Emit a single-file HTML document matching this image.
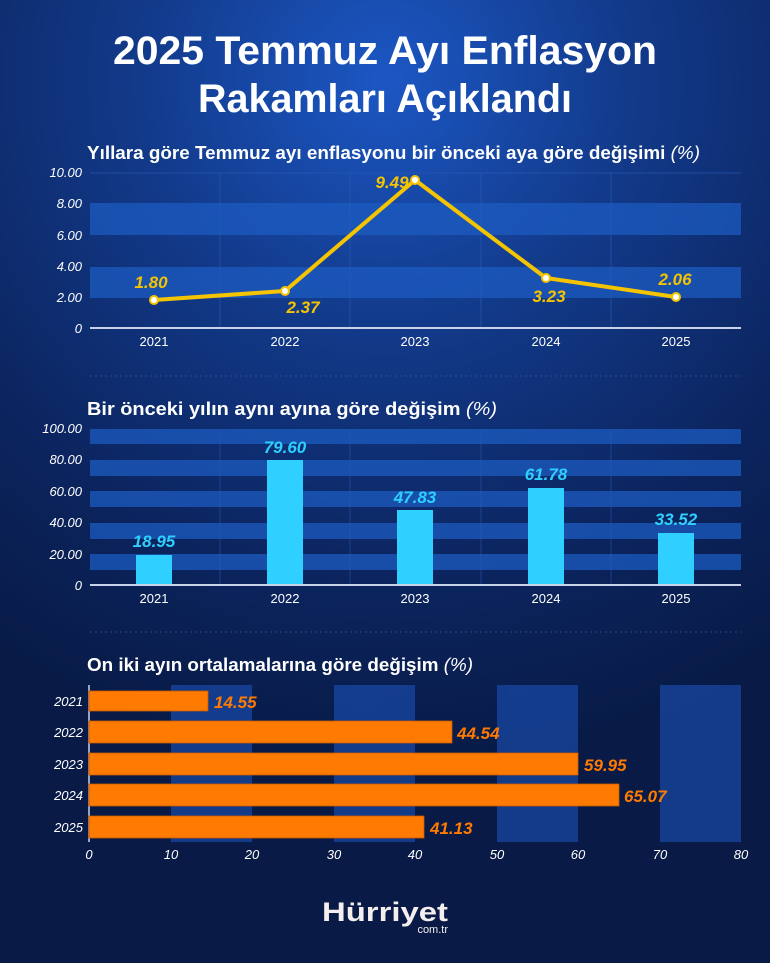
<!DOCTYPE html>
<html><head><meta charset="utf-8"><style>
html,body{margin:0;padding:0;background:#0a1d4a}
svg{display:block}
text{font-family:"Liberation Sans",sans-serif}
</style></head><body>
<svg width="770" height="963" viewBox="0 0 770 963" xmlns="http://www.w3.org/2000/svg">
<defs>
<radialGradient id="bg" cx="385" cy="80" r="700" gradientUnits="userSpaceOnUse">
<stop offset="0" stop-color="#1c57c4"/>
<stop offset="0.35" stop-color="#123a8a"/>
<stop offset="0.7" stop-color="#0c2560"/>
<stop offset="1" stop-color="#081a45"/>
</radialGradient>
</defs>
<rect width="770" height="963" fill="url(#bg)"/>
<!-- Title -->
<g fill="#fff" font-weight="bold" text-anchor="middle">
<text x="385" y="64" font-size="40" textLength="544" lengthAdjust="spacingAndGlyphs">2025 Temmuz Ayı Enflasyon</text>
<text x="385" y="112" font-size="40" textLength="374" lengthAdjust="spacingAndGlyphs">Rakamları Açıklandı</text>
</g>
<!-- Chart 1 -->
<text x="87" y="159" fill="#fff" font-size="18" font-weight="bold" textLength="613" lengthAdjust="spacingAndGlyphs">Yıllara göre Temmuz ayı enflasyonu bir önceki aya göre değişimi <tspan font-weight="normal" font-style="italic">(%)</tspan></text>
<rect x="90" y="203" width="651" height="32" fill="#1c5bc0" opacity="0.75"/>
<rect x="90" y="267" width="651" height="31" fill="#1c5bc0" opacity="0.75"/>
<g stroke="#2a5db5" stroke-width="1" opacity="0.6">
<line x1="90" y1="173" x2="741" y2="173"/>
<line x1="220" y1="173" x2="220" y2="328"/><line x1="350" y1="173" x2="350" y2="328"/>
<line x1="481" y1="173" x2="481" y2="328"/><line x1="611" y1="173" x2="611" y2="328"/>
</g>
<line x1="90" y1="328" x2="741" y2="328" stroke="#c8d2e8" stroke-width="2"/>
<g fill="#fff" font-size="13" font-style="italic" text-anchor="end">
<text x="82" y="177">10.00</text><text x="82" y="208">8.00</text><text x="82" y="240">6.00</text>
<text x="82" y="271">4.00</text><text x="82" y="302">2.00</text><text x="82" y="333">0</text>
</g>
<g fill="#fff" font-size="13" text-anchor="middle">
<text x="154" y="346">2021</text><text x="285" y="346">2022</text><text x="415" y="346">2023</text><text x="546" y="346">2024</text><text x="676" y="346">2025</text>
</g>
<polyline points="154,300 285,291 415,180 546,278 676,297" fill="none" stroke="#f5c400" stroke-width="4" stroke-linejoin="round"/>
<g fill="#fff" stroke="#f5c400" stroke-width="2">
<circle cx="154" cy="300" r="4"/><circle cx="285" cy="291" r="4"/><circle cx="415" cy="180" r="4"/><circle cx="546" cy="278" r="4"/><circle cx="676" cy="297" r="4"/>
</g>
<g fill="#f5c400" font-size="17" font-weight="bold" font-style="italic" text-anchor="middle">
<text x="151" y="288">1.80</text><text x="303" y="313">2.37</text><text x="392" y="188">9.49</text><text x="549" y="302">3.23</text><text x="675" y="285">2.06</text>
</g>
<line x1="90" y1="376" x2="741" y2="376" stroke="#3a5fa8" stroke-dasharray="2 3" opacity="0.6"/>
<!-- Chart 2 -->
<text x="87" y="415" fill="#fff" font-size="18" font-weight="bold" textLength="410" lengthAdjust="spacingAndGlyphs">Bir önceki yılın aynı ayına göre değişim <tspan font-weight="normal" font-style="italic">(%)</tspan></text>
<g fill="#1c5bc0" opacity="0.75">
<rect x="90" y="429" width="651" height="15"/><rect x="90" y="460" width="651" height="16"/>
<rect x="90" y="491" width="651" height="16"/><rect x="90" y="523" width="651" height="16"/>
<rect x="90" y="554" width="651" height="16"/>
</g>
<g stroke="#2a5db5" stroke-width="1" opacity="0.5">
<line x1="220" y1="429" x2="220" y2="585"/><line x1="350" y1="429" x2="350" y2="585"/>
<line x1="481" y1="429" x2="481" y2="585"/><line x1="611" y1="429" x2="611" y2="585"/>
</g>
<g fill="#2fd0ff">
<rect x="136" y="555" width="36" height="30"/><rect x="267" y="460" width="36" height="125"/>
<rect x="397" y="510" width="36" height="75"/><rect x="528" y="488" width="36" height="97"/>
<rect x="658" y="533" width="36" height="52"/>
</g>
<line x1="90" y1="585" x2="741" y2="585" stroke="#c8d2e8" stroke-width="2"/>
<g fill="#fff" font-size="13" font-style="italic" text-anchor="end">
<text x="82" y="433">100.00</text><text x="82" y="464">80.00</text><text x="82" y="496">60.00</text>
<text x="82" y="527">40.00</text><text x="82" y="559">20.00</text><text x="82" y="590">0</text>
</g>
<g fill="#fff" font-size="13" text-anchor="middle">
<text x="154" y="603">2021</text><text x="285" y="603">2022</text><text x="415" y="603">2023</text><text x="546" y="603">2024</text><text x="676" y="603">2025</text>
</g>
<g fill="#2fd0ff" font-size="17" font-weight="bold" font-style="italic" text-anchor="middle">
<text x="154" y="547">18.95</text><text x="285" y="453">79.60</text><text x="415" y="503">47.83</text><text x="546" y="480">61.78</text><text x="676" y="525">33.52</text>
</g>
<line x1="90" y1="632" x2="741" y2="632" stroke="#3a5fa8" stroke-dasharray="2 3" opacity="0.6"/>
<!-- Chart 3 -->
<text x="87" y="671" fill="#fff" font-size="18" font-weight="bold" textLength="386" lengthAdjust="spacingAndGlyphs">On iki ayın ortalamalarına göre değişim <tspan font-weight="normal" font-style="italic">(%)</tspan></text>
<g fill="#1a4aa8" opacity="0.7">
<rect x="171" y="685" width="81" height="157"/><rect x="334" y="685" width="81" height="157"/>
<rect x="497" y="685" width="81" height="157"/><rect x="660" y="685" width="81" height="157"/>
</g>
<line x1="89" y1="685" x2="89" y2="842" stroke="#c8d2e8" stroke-width="1.5"/>
<g fill="#ff7a00" stroke="#c85a00" stroke-width="0.8">
<rect x="89" y="691" width="119" height="20"/><rect x="89" y="721" width="363" height="22"/>
<rect x="89" y="753" width="489" height="22"/><rect x="89" y="784" width="530" height="22"/>
<rect x="89" y="816" width="335" height="22"/>
</g>
<g fill="#ff7a00" font-size="17" font-weight="bold" font-style="italic">
<text x="214" y="708">14.55</text><text x="457" y="739">44.54</text><text x="584" y="771">59.95</text><text x="624" y="802">65.07</text><text x="430" y="834">41.13</text>
</g>
<g fill="#fff" font-size="13" font-style="italic" text-anchor="end">
<text x="83" y="706">2021</text><text x="83" y="737">2022</text><text x="83" y="769">2023</text><text x="83" y="800">2024</text><text x="83" y="832">2025</text>
</g>
<g fill="#fff" font-size="13" font-style="italic" text-anchor="middle">
<text x="89" y="859">0</text><text x="171" y="859">10</text><text x="252" y="859">20</text><text x="334" y="859">30</text><text x="415" y="859">40</text>
<text x="497" y="859">50</text><text x="578" y="859">60</text><text x="660" y="859">70</text><text x="741" y="859">80</text>
</g>
<!-- Logo -->
<text x="385" y="921" fill="#f4eeee" font-size="27" font-weight="bold" text-anchor="middle" textLength="126" lengthAdjust="spacingAndGlyphs">Hürriyet</text>
<text x="448" y="933" fill="#f4eeee" font-size="11" text-anchor="end">com.tr</text>
</svg>
</body></html>
